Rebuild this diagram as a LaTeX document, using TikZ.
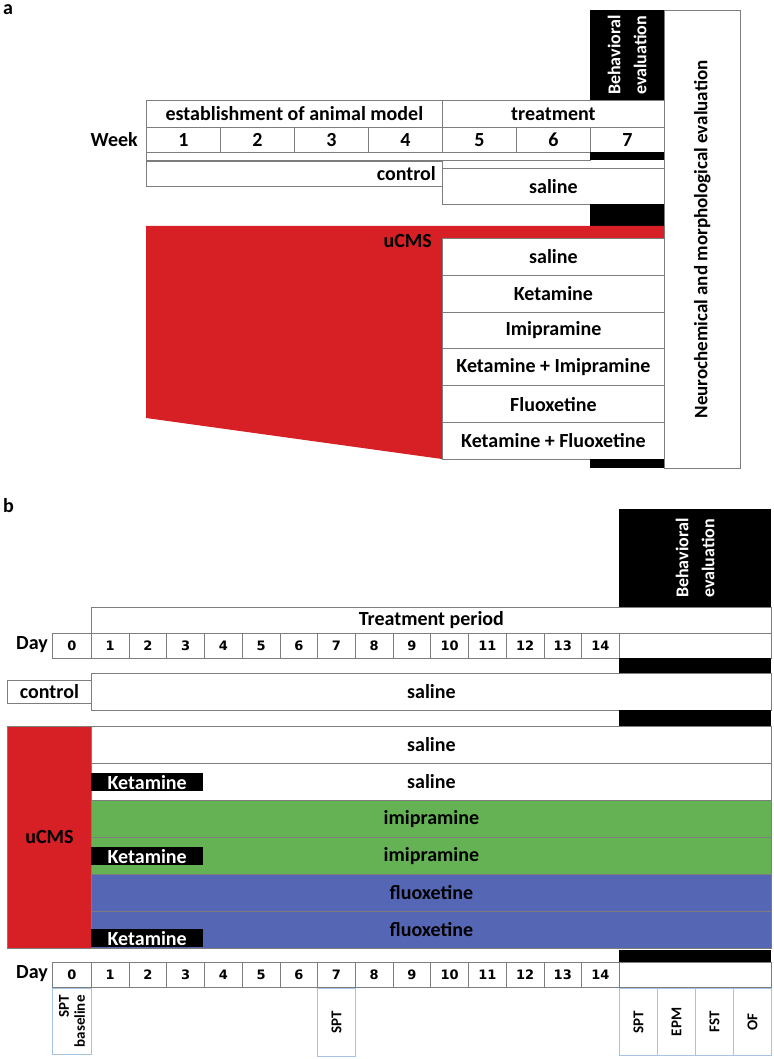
\documentclass[tikz,border=0pt]{standalone}
\usepackage{fontspec}
\setmainfont{Carlito}
\newfontfamily\numfont{DejaVu Sans}
\definecolor{stressred}{RGB}{215,31,38}
\definecolor{imigreen}{RGB}{100,178,84}
\definecolor{fluoblue}{RGB}{85,102,180}
\definecolor{framegray}{RGB}{125,125,125}
\definecolor{testblue}{RGB}{165,195,228}
\tikzset{
  cell/.style={draw=framegray, line width=0.8pt, fill=white, anchor=north west,
    inner sep=0pt, font=\fontsize{20}{22}\selectfont\bfseries},
  blackbar/.style={fill=black, anchor=north west, inner sep=0pt},
  daycell/.style={cell, minimum width=37.71, minimum height=25,
    font=\numfont\fontsize{13}{15}\selectfont\bfseries},
  testbox/.style={draw=testblue, line width=0.8pt, anchor=north west, inner sep=0pt},
  testtext/.style={rotate=90, align=right, font=\fontsize{15}{16}\selectfont\bfseries},
  ketlabel/.style={blackbar, minimum width=112, minimum height=18, text=white,
    font=\fontsize{20}{22}\selectfont\bfseries},
  lbl/.style={inner sep=0pt, font=\fontsize{20}{22}\selectfont\bfseries},
  vlbl/.style={rotate=90, align=center, inner sep=0pt, font=\fontsize{18}{26}\selectfont\bfseries}
}
\begin{document}
\begin{tikzpicture}[x=1pt, y=-1pt]
\useasboundingbox (0,0) rectangle (773,1059);
% panel a
\node[lbl, anchor=north west] (panela) at (3,4) {a};
\node[blackbar, minimum width=74, minimum height=90] (behava) at (590,10) {};
\node[vlbl, text=white] (behavatxt) at (behava.center) {Behavioral\\evaluation};
\node[cell, minimum width=76, minimum height=458] (neuro) at (664,10) {};
\node[vlbl, font=\fontsize{19}{22}\selectfont\bfseries] (neurotxt) at (neuro.center) {Neurochemical and morphological evaluation};
\node[cell, minimum width=296, minimum height=27] (estab) at (146,100) {establishment of animal model};
\node[cell, minimum width=222, minimum height=27] (treat) at (442,100) {treatment};
\node[lbl, anchor=east] (week) at (138,140) {Week};
\foreach \i in {1,...,7}
  \node[cell, minimum width=74, minimum height=25] (w\i) at ({146+74*(\i-1)},127) {\i};
\node[cell, minimum width=444, minimum height=8] (stripa) at (146,152) {};
\node[blackbar, minimum width=74, minimum height=8] (bara1) at (590,152) {};
\node[cell, minimum width=296, minimum height=25] (ctrla) at (146,161) {};
\node[lbl, anchor=east] (ctrlatxt) at (436,174) {control};
\node[cell, minimum width=222, minimum height=36] (salinea) at (442,168) {saline};
\node[blackbar, minimum width=74, minimum height=22] (bara2) at (590,204) {};
% stress block
\fill[stressred] (146,226) -- (664,226) -- (664,238) -- (442,238) -- (442,459) -- (146,418) -- cycle;
\node[lbl, anchor=east] (ucmsa) at (432,241) {uCMS};
\foreach \grp [count=\k] in {saline, Ketamine, Imipramine, Ketamine + Imipramine, Fluoxetine, Ketamine + Fluoxetine}
  \node[cell, minimum width=222, minimum height=36.83] (ra\k) at (442,{238+36.83*(\k-1)}) {\grp};
\node[blackbar, minimum width=74, minimum height=9] (bara3) at (590,459) {};
% panel b
\node[lbl, anchor=north west] (panelb) at (3,498) {b};
\node[blackbar, minimum width=152, minimum height=98] (behavb) at (619,509) {};
\node[vlbl, text=white] (behavbtxt) at (behavb.center) {Behavioral\\evaluation};
\node[cell, minimum width=680, minimum height=26] (period) at (91,607) {Treatment period};
\foreach \y/\tag in {633/t, 962/b} {
  \node[lbl, anchor=east] (day\tag) at (48,{\y+12}) {Day};
  \node[daycell, minimum width=39] (d\tag0) at (52,\y) {0};
  \foreach \i in {1,...,14}
    \node[daycell] (d\tag\i) at ({91+37.71*(\i-1)},\y) {\i};
  \node[cell, minimum width=152, minimum height=25] (d\tag e) at (619,\y) {};
}
\node[blackbar, minimum width=152, minimum height=15] (barb1) at (619,658) {};
\node[cell, minimum width=84, minimum height=23] (ctrlb) at (7,680) {control};
\node[cell, minimum width=680, minimum height=37] (salineb) at (91,673) {saline};
\node[blackbar, minimum width=152, minimum height=16] (barb2) at (619,710) {};
\node[cell, fill=stressred, minimum width=84, minimum height=222] (ucmsb) at (7,726) {uCMS};
\foreach \grp/\col [count=\k] in {saline/white, saline/white, imipramine/imigreen, imipramine/imigreen, fluoxetine/fluoblue, fluoxetine/fluoblue}
  \node[cell, fill=\col, minimum width=680, minimum height=37] (rb\k) at (91,{726+37*(\k-1)}) {\grp};
\foreach \k/\off in {2/10, 4/10, 6/18}
  \node[ketlabel] (ket\k) at (91,{726+37*(\k-1)+\off}) {Ketamine};
\node[blackbar, minimum width=152, minimum height=12] (barb3) at (619,950) {};
% tests
\node[testbox, minimum width=39, minimum height=66] (sptbase) at (52,988) {};
\node[testtext] (sptbasetxt) at (sptbase.center) {SPT\\baseline};
\node[testbox, minimum width=38, minimum height=68] (sptmid) at (317,988) {};
\node[testtext] (sptmidtxt) at (sptmid.center) {SPT};
\foreach \tst [count=\j] in {SPT, EPM, FST, OF} {
  \node[testbox, minimum width=38, minimum height=67] (test\j) at ({619+38*(\j-1)},988) {};
  \node[testtext] (test\j txt) at (test\j.center) {\tst};
}
\end{tikzpicture}
\end{document}
